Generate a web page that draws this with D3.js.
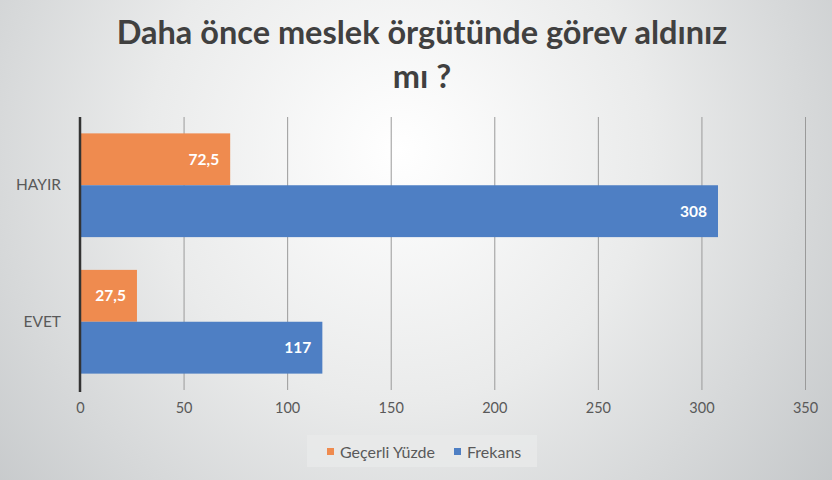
<!DOCTYPE html>
<html><head><meta charset="utf-8">
<script src="https://cdn.jsdelivr.net/npm/d3@7"></script>
<style>html,body{margin:0;padding:0;overflow:hidden}svg{display:block}</style>
</head><body>
<script>
const titleLines = ["Daha önce meslek örgütünde görev aldınız", "mı ?"];
const categories = ["HAYIR", "EVET"];
const seriesNames = ["Geçerli Yüzde", "Frekans"];
const gecerliYuzde = [72.5, 27.5];
const frekans = [308, 117];
const valueLabelsYuzde = ["72,5", "27,5"];
const valueLabelsFrekans = ["308", "117"];
const tickValues = [0, 50, 100, 150, 200, 250, 300, 350];
const colors = ["#ef8b4f", "#4e7fc4"];

const W = 832, H = 480;
const svg = d3.select("body").append("svg").attr("width", W).attr("height", H);
const defs = svg.append("defs");
const rg = defs.append("radialGradient").attr("id","bg").attr("gradientUnits","userSpaceOnUse")
  .attr("cx", 400).attr("cy", 150).attr("r", 560);
rg.append("stop").attr("offset","0%").attr("stop-color","#ffffff");
rg.append("stop").attr("offset","45%").attr("stop-color","#eaebeb");
rg.append("stop").attr("offset","100%").attr("stop-color","#c3c6c8");
svg.append("rect").attr("width",W).attr("height",H).attr("fill","url(#bg)");

const font = "Lato, 'Open Sans', sans-serif";

svg.selectAll("text.title").data(titleLines).enter().append("text")
  .attr("class","title")
  .attr("x", 422).attr("y", (d,i)=> 44 + i*44)
  .attr("text-anchor","middle")
  .attr("font-family", font).attr("font-weight","bold").attr("font-size", 32.5)
  .attr("fill","#404040").text(d=>d);

const x = d3.scaleLinear().domain([0, 350]).range([80, 805]);
const y = d3.scaleBand().domain(categories).range([117, 390]).paddingInner(0.24).paddingOuter(0.12);
const ySub = d3.scaleBand().domain(seriesNames).range([0, y.bandwidth()]);

// gridlines
const grid = svg.append("g")
  .call(d3.axisBottom(x).tickValues(tickValues).tickSize(390-117).tickFormat(""));
grid.attr("transform","translate(0,117)");
grid.select(".domain").remove();
grid.selectAll(".tick line").attr("stroke","#9a9a9a").attr("stroke-width",1);

// tick labels
const ax = svg.append("g").attr("transform","translate(0,392)")
  .call(d3.axisBottom(x).tickValues(tickValues).tickSize(0).tickPadding(11));
ax.select(".domain").remove();
ax.selectAll("text").attr("font-family", font).attr("font-size", 14.5).attr("fill","#595959");

const series = [
  {name: seriesNames[0], values: gecerliYuzde, labels: valueLabelsYuzde, color: colors[0]},
  {name: seriesNames[1], values: frekans, labels: valueLabelsFrekans, color: colors[1]}
];

series.forEach(s => {
  const g = svg.append("g");
  g.selectAll("rect").data(categories).enter().append("rect")
    .attr("x", x(0)).attr("y", c => y(c) + ySub(s.name))
    .attr("width", (c,i) => x(s.values[i]) - x(0))
    .attr("height", ySub.bandwidth())
    .attr("fill", s.color);
  g.selectAll("text").data(categories).enter().append("text")
    .attr("x", (c,i) => x(s.values[i]) - 11)
    .attr("y", c => y(c) + ySub(s.name) + ySub.bandwidth()/2)
    .attr("dy","0.35em").attr("text-anchor","end")
    .attr("font-family", font).attr("font-weight","bold").attr("font-size", 15.5)
    .attr("fill","#ffffff").text((c,i)=>s.labels[i]);
});

// y axis
const yAx = svg.append("g").attr("transform","translate(80,0)")
  .call(d3.axisLeft(y).tickSize(0).tickPadding(19));
yAx.select(".domain").attr("stroke","#333").attr("stroke-width",2.5).attr("d","M0,117V392");
yAx.selectAll("text").attr("font-family", font).attr("font-size", 15.5).attr("fill","#595959");

// legend
const lg = svg.append("g");
lg.append("rect").attr("x",307).attr("y",435).attr("width",230).attr("height",32).attr("fill","#e9eaea").attr("opacity",0.8);
const legendX = [327, 454];
series.forEach((s,i) => {
  lg.append("rect").attr("x",legendX[i]).attr("y",448).attr("width",7).attr("height",7).attr("fill",s.color);
  lg.append("text").attr("x",legendX[i]+13).attr("y",452).attr("dy","0.35em")
    .attr("font-family", font).attr("font-size",16).attr("fill","#595959").text(s.name);
});
</script>
</body></html>
